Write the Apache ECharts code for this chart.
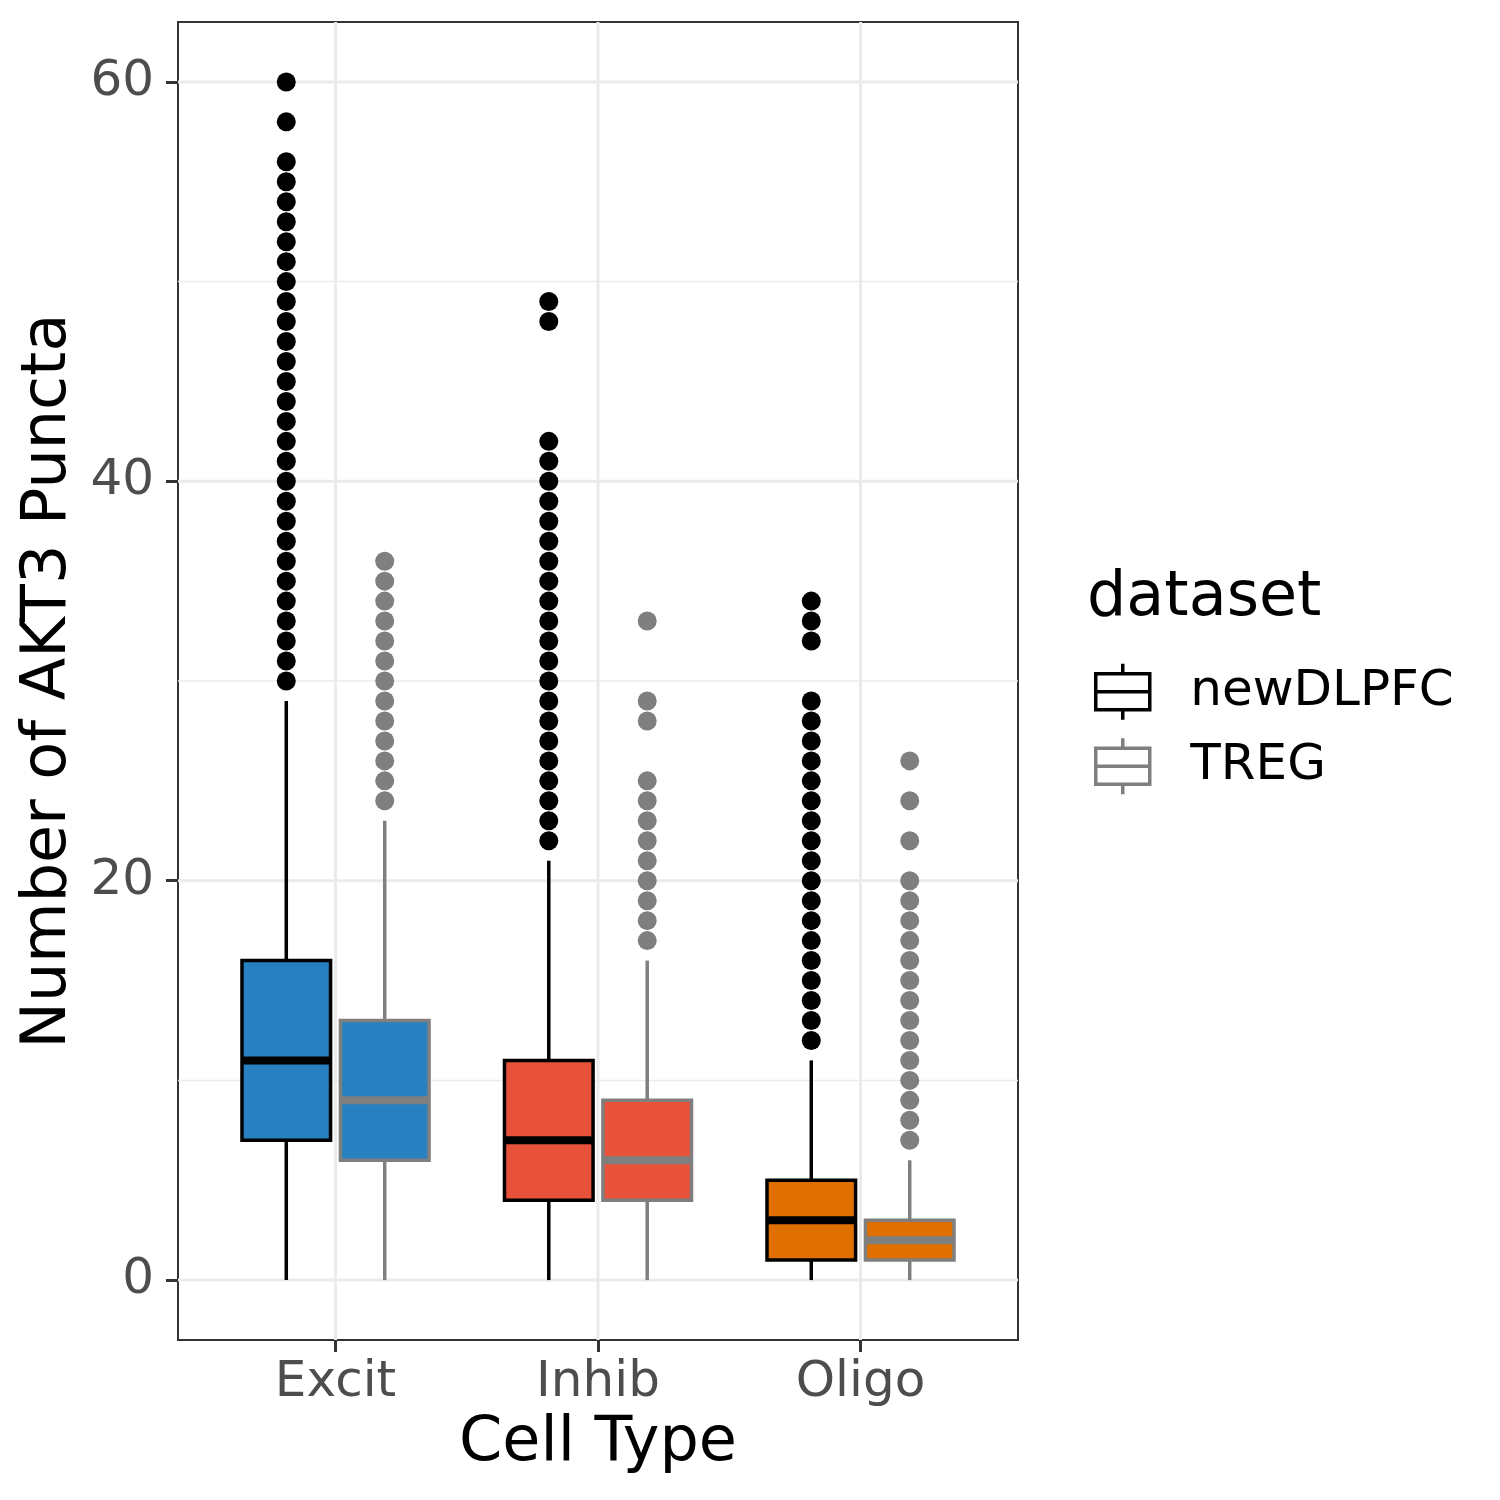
<!DOCTYPE html>
<html>
<head>
<meta charset="utf-8">
<script src="https://cdn.jsdelivr.net/npm/echarts@6/dist/echarts.min.js"></script>
<style>
  html, body { margin: 0; padding: 0; background: #fff; }
  #main { width: 1500px; height: 1500px; }
</style>
</head>
<body>
<div id="main"></div>
<script>
var cellTypes = ['Excit', 'Inhib', 'Oligo'];
var datasets = ['newDLPFC', 'TREG'];

// [lower whisker, Q1, median, Q3, upper whisker] per cell type
var newStats = [[0, 7, 11, 16, 29], [0, 4, 7, 11, 21], [0, 1, 3, 5, 11]];
var tregStats = [[0, 6, 9, 13, 23], [0, 4, 6, 9, 16], [0, 1, 2, 3, 6]];

// outliers per cell type
var newOut = [
  [30, 31, 32, 33, 34, 35, 36, 37, 38, 39, 40, 41, 42, 43, 44, 45, 46, 47, 48, 49, 50, 51, 52, 53, 54, 55, 56, 58, 60],
  [22, 23, 24, 25, 26, 27, 28, 29, 30, 31, 32, 33, 34, 35, 36, 37, 38, 39, 40, 41, 42, 48, 49],
  [12, 13, 14, 15, 16, 17, 18, 19, 20, 21, 22, 23, 24, 25, 26, 27, 28, 29, 32, 33, 34]
];
var tregOut = [
  [24, 25, 26, 27, 28, 29, 30, 31, 32, 33, 34, 35, 36],
  [17, 18, 19, 20, 21, 22, 23, 24, 25, 28, 29, 33],
  [7, 8, 9, 10, 11, 12, 13, 14, 15, 16, 17, 18, 19, 20, 22, 24, 26]
];

var yMajor = [0, 20, 40, 60];
var yMinor = [10, 30, 50];

var fills = ['#2780bf', '#e8513a', '#df7000'];
var edges = ['#000000', '#7f7f7f'];
var dodge = 0.1875;       // half of dodge width 0.75 / 2
var boxW = 0.3375;        // 0.375 * 0.9

var myChart = echarts.init(document.getElementById('main'));

function boxData(stats, side) {
  return stats.map(function (s, i) {
    return [i + 1 + side * dodge, s[0], s[1], s[2], s[3], s[4], i];
  });
}
function outData(out, side) {
  var res = [];
  out.forEach(function (vals, i) {
    vals.forEach(function (v) { res.push([i + 1 + side * dodge, v]); });
  });
  return res;
}

function renderBox(edge) {
  return function (params, api) {
    var x = api.value(0);
    var low = api.coord([x, api.value(1)]);
    var q1 = api.coord([x, api.value(2)]);
    var med = api.coord([x, api.value(3)]);
    var q3 = api.coord([x, api.value(4)]);
    var high = api.coord([x, api.value(5)]);
    var half = api.size([boxW, 0])[0] / 2;
    var px = q1[0];
    var fill = fills[api.value(6)];
    return {
      type: 'group',
      children: [
        { type: 'line', shape: { x1: px, y1: high[1], x2: px, y2: q3[1] }, style: { stroke: edge, lineWidth: 3.5 } },
        { type: 'line', shape: { x1: px, y1: q1[1], x2: px, y2: low[1] }, style: { stroke: edge, lineWidth: 3.5 } },
        { type: 'rect', shape: { x: px - half, y: q3[1], width: half * 2, height: q1[1] - q3[1] }, style: { fill: fill, stroke: edge, lineWidth: 3.5 } },
        { type: 'line', shape: { x1: px - half, y1: med[1], x2: px + half, y2: med[1] }, style: { stroke: edge, lineWidth: 8 } }
      ]
    };
  };
}

// grid lines: [x, y, kind] kind 0 = major horizontal, 1 = minor horizontal, 2 = vertical
var gridData = [];
yMajor.forEach(function (v) { gridData.push([0.4, v, 0]); });
yMinor.forEach(function (v) { gridData.push([0.4, v, 1]); });
cellTypes.forEach(function (c, i) { gridData.push([i + 1, 0, 2]); });

var legendIcon = 'path://M1.5,10 L1.5,46 L55.5,46 L55.5,10 Z M1.5,28 L55.5,28 M28.5,0 L28.5,10 M28.5,46 L28.5,56';

option = {
  animation: false,
  textStyle: { fontFamily: 'DejaVu Sans' },
  title: {
    text: 'dataset',
    left: 1087,
    top: 568,
    padding: 0,
    textStyle: { fontSize: 62, fontWeight: 'normal', color: '#000' }
  },
  legend: {
    orient: 'vertical',
    left: 1094,
    top: 662,
    padding: 0,
    itemWidth: 57,
    itemHeight: 56,
    itemGap: 15,
    icon: legendIcon,
    textStyle: { fontSize: 50, lineHeight: 56, color: '#000', padding: [0, 0, 0, 34] },
    data: [
      { name: 'newDLPFC', itemStyle: { color: '#fff', borderColor: edges[0], borderWidth: 3.5 } },
      { name: 'TREG', itemStyle: { color: '#fff', borderColor: edges[1], borderWidth: 3.5 } }
    ]
  },
  grid: {
    left: 178, top: 22, width: 840, height: 1318,
    show: true, borderColor: '#333333', borderWidth: 2, backgroundColor: '#fff'
  },
  xAxis: {
    type: 'value',
    min: 0.4, max: 3.6,
    name: 'Cell Type',
    nameLocation: 'middle',
    nameGap: 73,
    nameTextStyle: { fontSize: 62, color: '#000' },
    axisLine: { show: false, onZero: false },
    axisTick: { show: true, length: 12, lineStyle: { color: '#333', width: 3 }, customValues: [1, 2, 3] },
    axisLabel: {
      fontSize: 50, color: '#4d4d4d', margin: 18,
      customValues: [1, 2, 3],
      formatter: function (v) { return cellTypes[Math.round(v) - 1]; }
    },
    splitLine: { show: false }
  },
  yAxis: {
    type: 'value',
    min: -3, max: 63,
    name: 'Number of AKT3 Puncta',
    nameLocation: 'middle',
    nameGap: 97,
    nameTextStyle: { fontSize: 62, color: '#000' },
    axisLine: { show: false, onZero: false },
    axisTick: { show: true, length: 12, lineStyle: { color: '#333', width: 3 }, customValues: yMajor },
    axisLabel: { fontSize: 50, color: '#4d4d4d', margin: 24, customValues: yMajor },
    splitLine: { show: false }
  },
  series: [
    {
      type: 'custom',
      name: 'grid',
      silent: true,
      z: 0,
      data: gridData,
      renderItem: function (params, api) {
        var cs = params.coordSys;
        var kind = api.value(2);
        if (kind === 2) {
          var px = api.coord([api.value(0), 0])[0];
          return { type: 'line', shape: { x1: px, y1: cs.y, x2: px, y2: cs.y + cs.height }, style: { stroke: '#ebebeb', lineWidth: 3 } };
        }
        var py = api.coord([0.4, api.value(1)])[1];
        return { type: 'line', shape: { x1: cs.x, y1: py, x2: cs.x + cs.width, y2: py }, style: { stroke: '#ebebeb', lineWidth: kind === 0 ? 3 : 1.5 } };
      }
    },
    {
      type: 'custom',
      name: 'newDLPFC',
      z: 2,
      data: boxData(newStats, -1),
      renderItem: renderBox(edges[0])
    },
    {
      type: 'custom',
      name: 'TREG',
      z: 2,
      data: boxData(tregStats, 1),
      renderItem: renderBox(edges[1])
    },
    {
      type: 'scatter',
      name: 'newDLPFC',
      z: 3,
      symbolSize: 19,
      itemStyle: { color: edges[0], opacity: 1 },
      data: outData(newOut, -1)
    },
    {
      type: 'scatter',
      name: 'TREG',
      z: 3,
      symbolSize: 19,
      itemStyle: { color: edges[1], opacity: 1 },
      data: outData(tregOut, 1)
    }
  ]
};
myChart.setOption(option);
</script>
</body>
</html>
